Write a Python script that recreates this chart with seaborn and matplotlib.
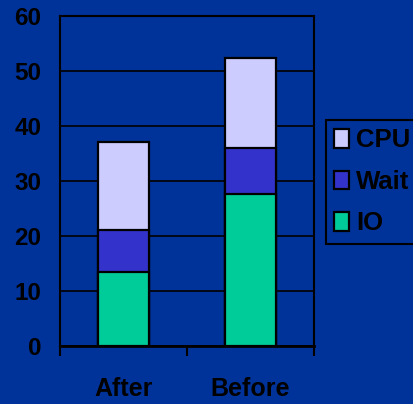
import matplotlib
matplotlib.use("Agg")
import matplotlib.pyplot as plt
import seaborn as sns
import numpy as np

# Data
categories = ["After", "Before"]
io = [13.5, 27.6]
wait = [7.6, 8.4]
cpu = [16.0, 16.4]

bg = "#003399"
colors = {"CPU": "#CCCCFF", "Wait": "#3333CC", "IO": "#00CC99"}

sns.set_style("white")
plt.rcParams["font.family"] = ["Liberation Sans", "DejaVu Sans"]
plt.rcParams["font.weight"] = "bold"
plt.rcParams["text.color"] = "black"

fig = plt.figure(figsize=(4.13, 4.04), dpi=100, facecolor=bg)
ax = fig.add_axes([60 / 413, 1 - 346 / 404, 254 / 413, 330 / 404])
ax.set_facecolor(bg)

# stacked bars: draw cumulative totals from the top segment down
io_arr = np.array(io)
wait_top = io_arr + np.array(wait)
cpu_top = wait_top + np.array(cpu)
for name, vals in [("CPU", cpu_top), ("Wait", wait_top), ("IO", io_arr)]:
    sns.barplot(x=categories, y=vals, color=colors[name], label=name,
                width=0.4, edgecolor="black", linewidth=1.6, saturation=1,
                ax=ax, legend=False)

ax.set_xlim(-0.5, 1.5)
ax.set_ylim(0, 60)
ax.set_yticks(range(0, 61, 10))
ax.yaxis.grid(True, color="black", linewidth=1.2)
ax.set_axisbelow(True)
for s in ax.spines.values():
    s.set_color("black")
    s.set_linewidth(1.5)
ax.spines["bottom"].set_linewidth(2)

ax.tick_params(axis="y", direction="out", length=6.5, width=1.2, color="black",
               pad=7, labelsize=17.5, labelcolor="black")
ax.set_xticks([0, 1])
ax.set_xticks([-0.5, 0.5, 1.5], minor=True)
ax.tick_params(axis="x", which="major", length=0, pad=22, labelsize=18,
               labelcolor="black")
ax.tick_params(axis="x", which="minor", direction="out", length=7, width=1.5,
               color="black", bottom=True)
for lab in ax.get_xticklabels() + ax.get_yticklabels():
    lab.set_fontweight("bold")
ax.set_xlabel("")
ax.set_ylabel("")

handles, labels = ax.get_legend_handles_labels()
leg = fig.legend(handles, labels, loc="upper left",
                 bbox_to_anchor=(326 / 413, 1 - 120 / 404),
                 frameon=True, fancybox=False, facecolor=bg, edgecolor="black",
                 prop={"size": 18.5, "weight": "bold"}, handlelength=0.55,
                 handleheight=0.75, handletextpad=0.3, labelspacing=0.68,
                 borderpad=0.33, borderaxespad=0)
leg.get_frame().set_linewidth(1.5)
leg.get_frame().set_alpha(None)
for t in leg.get_texts():
    t.set_color("black")

fig.savefig("out.png", dpi=100, facecolor=bg)
